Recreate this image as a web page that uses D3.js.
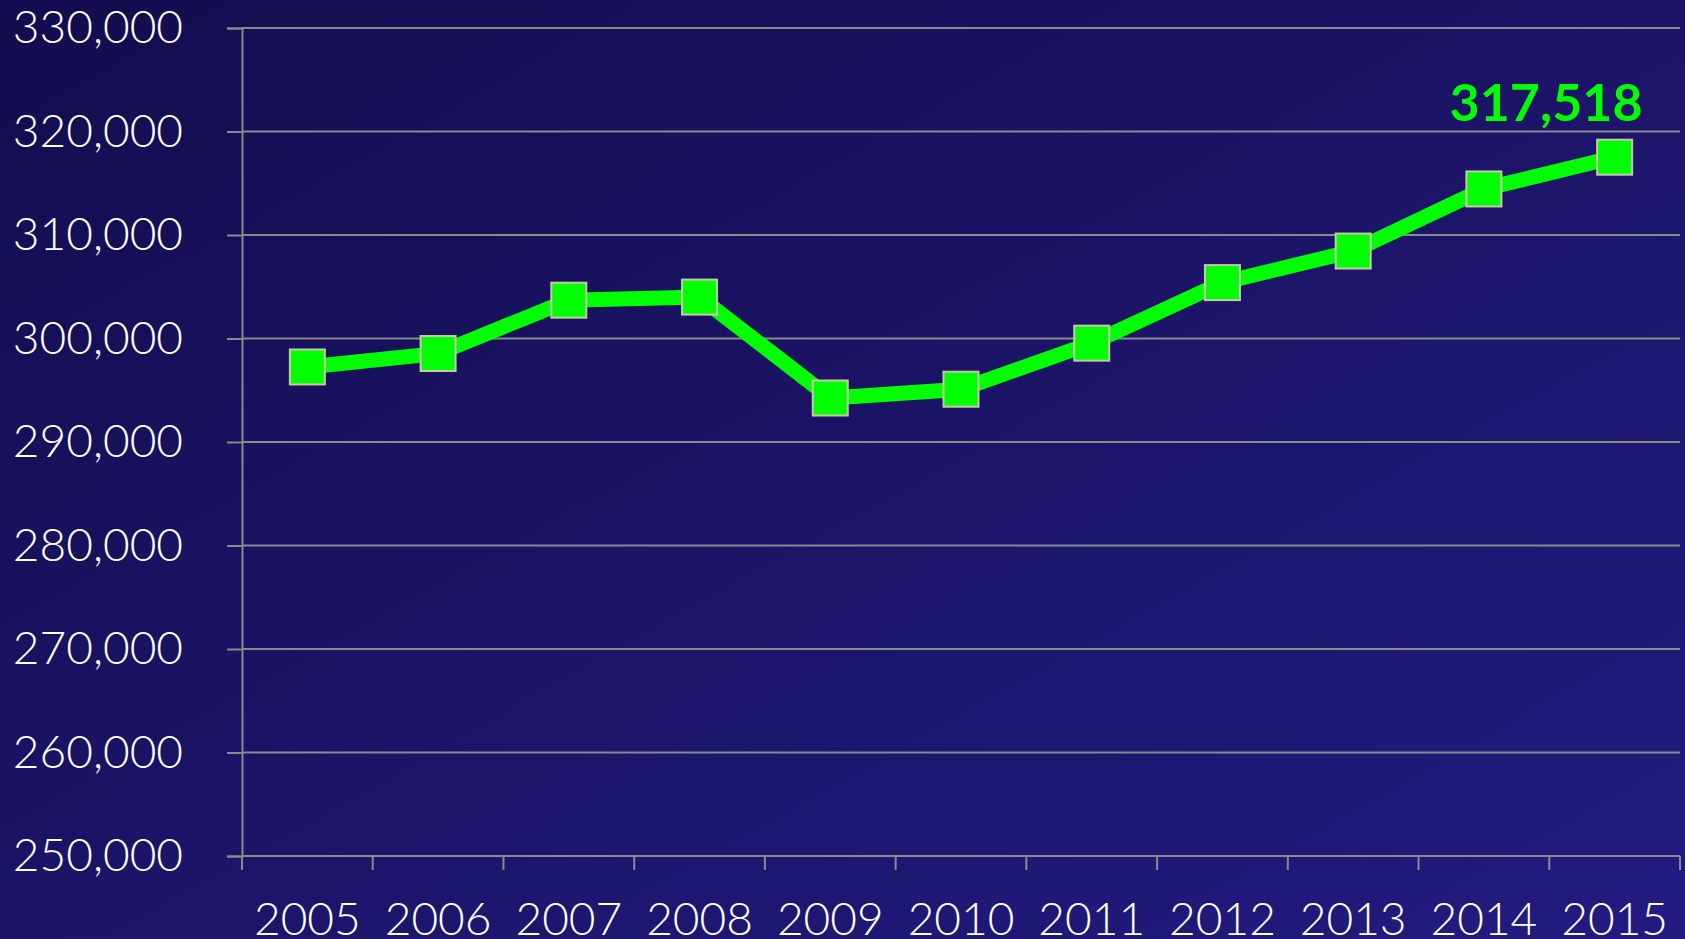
<!DOCTYPE html>
<html>
<head>
<meta charset="utf-8">
<script src="https://cdn.jsdelivr.net/npm/d3@7"></script>
<style>
  html, body { margin: 0; padding: 0; background: #160f55; }
  svg { display: block; }
  .tick text { font-family: Lato, "Open Sans", sans-serif; font-weight: 300; fill: #fff; }
</style>
</head>
<body>
<svg id="chart" width="1685" height="939"></svg>
<script>
// data
var years = ['2005', '2006', '2007', '2008', '2009', '2010', '2011', '2012', '2013', '2014', '2015'];
var population = [297250, 298550, 303700, 304000, 294250, 295100, 299550, 305400, 308450, 314450, 317518];
var yTicks = [250000, 260000, 270000, 280000, 290000, 300000, 310000, 320000, 330000];
var lastLabel = '317,518';

var width = 1685, height = 939;
var margin = { top: 28, right: 5, bottom: 83, left: 242 };

var svg = d3.select('#chart');

// background gradient, dark top-left to lighter bottom-right
var defs = svg.append('defs');
var grad = defs.append('linearGradient')
  .attr('id', 'bg')
  .attr('x1', '0%').attr('y1', '0%')
  .attr('x2', '100%').attr('y2', '100%');
grad.append('stop').attr('offset', '0%').attr('stop-color', '#130d4e');
grad.append('stop').attr('offset', '100%').attr('stop-color', '#231b80');
svg.append('rect').attr('width', width).attr('height', height).attr('fill', 'url(#bg)');

var x = d3.scaleBand()
  .domain(years)
  .range([margin.left, width - margin.right])
  .padding(0);

var y = d3.scaleLinear()
  .domain([250000, 330000])
  .range([height - margin.bottom, margin.top]);

var fmt = d3.format(',');

// y axis with gridlines
var yAxis = svg.append('g')
  .attr('transform', 'translate(' + margin.left + ',0)')
  .call(d3.axisLeft(y).tickValues(yTicks).tickFormat(fmt).tickSize(15).tickPadding(44));
yAxis.select('.domain').attr('stroke', '#8a8a8a').attr('stroke-width', 2);
yAxis.selectAll('.tick line').attr('stroke', '#8a8a8a').attr('stroke-width', 2);
yAxis.selectAll('.tick text').style('font-size', '46px');

svg.append('g')
  .selectAll('line')
  .data(yTicks)
  .join('line')
  .attr('x1', margin.left)
  .attr('x2', width - margin.right)
  .attr('y1', function(d) { return y(d); })
  .attr('y2', function(d) { return y(d); })
  .attr('stroke', '#8a8a8a')
  .attr('stroke-width', 2);

// x axis: labels centred in band, ticks at band edges
var xAxis = svg.append('g')
  .attr('transform', 'translate(0,' + y(250000) + ')')
  .call(d3.axisBottom(x).tickSize(0).tickPadding(46));
xAxis.select('.domain').remove();
xAxis.selectAll('.tick text').style('font-size', '46px');

var edges = years.map(function(d) { return x(d); }).concat([x(years[years.length - 1]) + x.bandwidth()]);
svg.append('g')
  .selectAll('line')
  .data(edges)
  .join('line')
  .attr('x1', function(d) { return d; })
  .attr('x2', function(d) { return d; })
  .attr('y1', y(250000))
  .attr('y2', y(250000) + 14)
  .attr('stroke', '#8a8a8a')
  .attr('stroke-width', 2);

var cx = function(d, i) { return x(years[i]) + x.bandwidth() / 2; };

// the line
var line = d3.line()
  .x(cx)
  .y(function(d) { return y(d); });

svg.append('path')
  .datum(population)
  .attr('d', line)
  .attr('fill', 'none')
  .attr('stroke', '#00ff00')
  .attr('stroke-width', 15)
  .attr('stroke-linejoin', 'miter');

// square markers
var size = 35;
svg.append('g')
  .selectAll('rect')
  .data(population)
  .join('rect')
  .attr('x', function(d, i) { return cx(d, i) - size / 2; })
  .attr('y', function(d) { return y(d) - size / 2; })
  .attr('width', size)
  .attr('height', size)
  .attr('fill', '#00ff00')
  .attr('stroke', '#c8c8a8')
  .attr('stroke-width', 2);

// label on last point
var li = population.length - 1;
svg.append('text')
  .attr('x', cx(population[li], li) + 28)
  .attr('y', y(population[li]) - 36)
  .attr('text-anchor', 'end')
  .style('font-family', 'Lato, "Open Sans", sans-serif')
  .style('font-weight', 'bold')
  .style('font-size', '52px')
  .attr('fill', '#00ff00')
  .text(lastLabel);
</script>
</body>
</html>
